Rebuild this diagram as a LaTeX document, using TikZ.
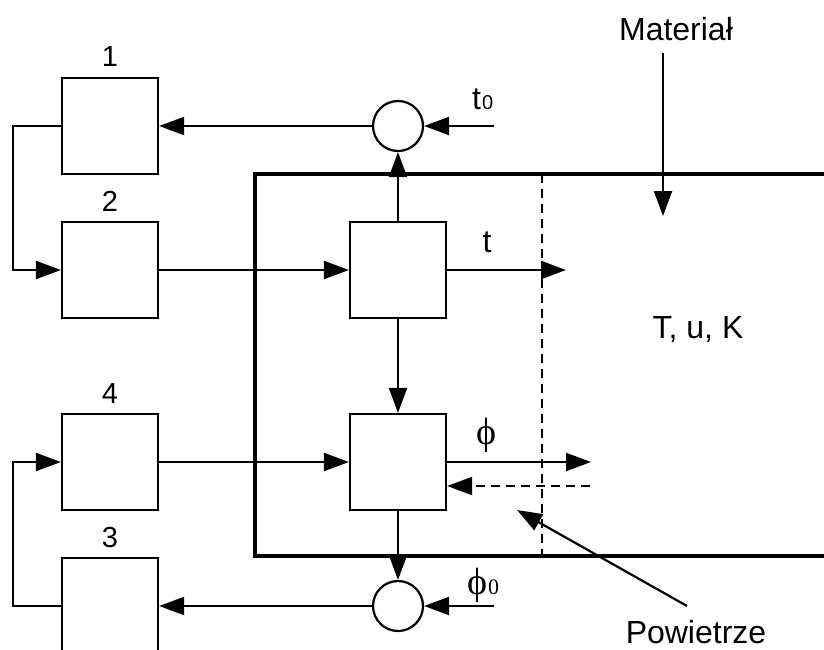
\documentclass[tikz,border=0pt]{standalone}
\usepackage{fontspec}
\setmainfont{Liberation Sans}
\newfontfamily\grk{Liberation Serif}
\usetikzlibrary{arrows.meta}
\begin{document}
\begin{tikzpicture}[x=1pt,y=-1pt,
  blk/.style={draw,line width=2.2pt,minimum width=96pt,minimum height=96pt,inner sep=0pt},
  sum/.style={draw,line width=2.2pt,circle,minimum size=50pt,inner sep=0pt},
  con/.style={line width=2.2pt,-{Triangle[length=25pt,width=18pt]}},
  lbl/.style={font=\fontsize{32}{34}\selectfont,inner sep=0pt},
  dig/.style={font=\fontsize{29}{31}\selectfont,inner sep=0pt},
  gl/.style={font=\grk\fontsize{38}{40}\selectfont,inner sep=0pt},
  dsh/.style={line width=2.2pt,dash pattern=on 9pt off 6pt},
  frame/.style={line width=4pt}
  ]
\useasboundingbox (0,0) rectangle (824,650);
\clip (0,0) rectangle (824,650);
% blocks
\node[blk] (b1) at (110,126) {};
\node[blk] (b2) at (110,270) {};
\node[blk] (b4) at (110,462) {};
\node[blk] (b3) at (110,606) {};
\node[blk] (u) at (398,270) {};
\node[blk] (l) at (398,462) {};
\node[sum] (s1) at (398,126) {};
\node[sum] (s2) at (398,606) {};
% block labels
\node[dig,anchor=base] (n1) at (110,67) {1};
\node[dig,anchor=base] (n2) at (110,211) {2};
\node[dig,anchor=base] (n4) at (110,403) {4};
\node[dig,anchor=base] (n3) at (110,547) {3};
% frame
\coordinate (fa) at (840,174);
\coordinate (fb) at (255,174);
\coordinate (fc) at (255,556);
\coordinate (fd) at (840,556);
\draw[frame] (fa) -- (fb) -- (fc) -- (fd);
% dashed boundary
\coordinate (da) at (542,174);
\coordinate (db) at (542,556);
\draw[dsh] (da) -- (db);
% connectors
\draw[con] (b1.west) -- ++(-48,0) |- (b2.west);
\draw[con] (b3.west) -- ++(-48,0) |- (b4.west);
\draw[con] (b2.east) -- (u.west);
\draw[con] (b4.east) -- (l.west);
\draw[con] (u.north) -- (s1.south);
\draw[con] (s1.west) -- (b1.east);
\coordinate (t0in) at (494,126);
\draw[con] (t0in) -- (s1.east);
\draw[con] (u.south) -- (l.north);
\draw[con] (l.south) -- (s2.north);
\draw[con] (s2.west) -- (b3.east);
\coordinate (f0in) at (494,606);
\draw[con] (f0in) -- (s2.east);
\coordinate (tout) at (566,270);
\draw[con] (u.east) -- (tout);
\coordinate (fout) at (591,462);
\draw[con] (l.east |- fout) -- (fout);
\coordinate (fin) at (590,486);
\draw[con,dsh] (fin) -- (l.east |- fin);
% Material
\node[lbl] (mat) at (676,29) {Materiał};
\coordinate (ma) at (663,53);
\coordinate (mb) at (663,216);
\draw[con] (ma) -- (mb);
% Powietrze
\node[lbl,anchor=base] (pow) at (696,643) {Powietrze};
\coordinate (pa) at (687,606);
\coordinate (pb) at (517,510);
\draw[con] (pa) -- (pb);
% signal labels
\node[lbl] (tuk) at (698,330) {T, u, K};
\node[lbl,anchor=base] (tl) at (487,252) {t};
\node[lbl,anchor=base west] (t0) at (472,110) {t\kern1pt{\fontsize{20}{22}\selectfont 0}};
\node[gl,anchor=base] (ph) at (486,444) {ϕ};
\node[gl,anchor=base west] (ph0) at (467,594) {ϕ\kern1pt{\fontsize{22}{24}\selectfont 0}};
\end{tikzpicture}
\end{document}
